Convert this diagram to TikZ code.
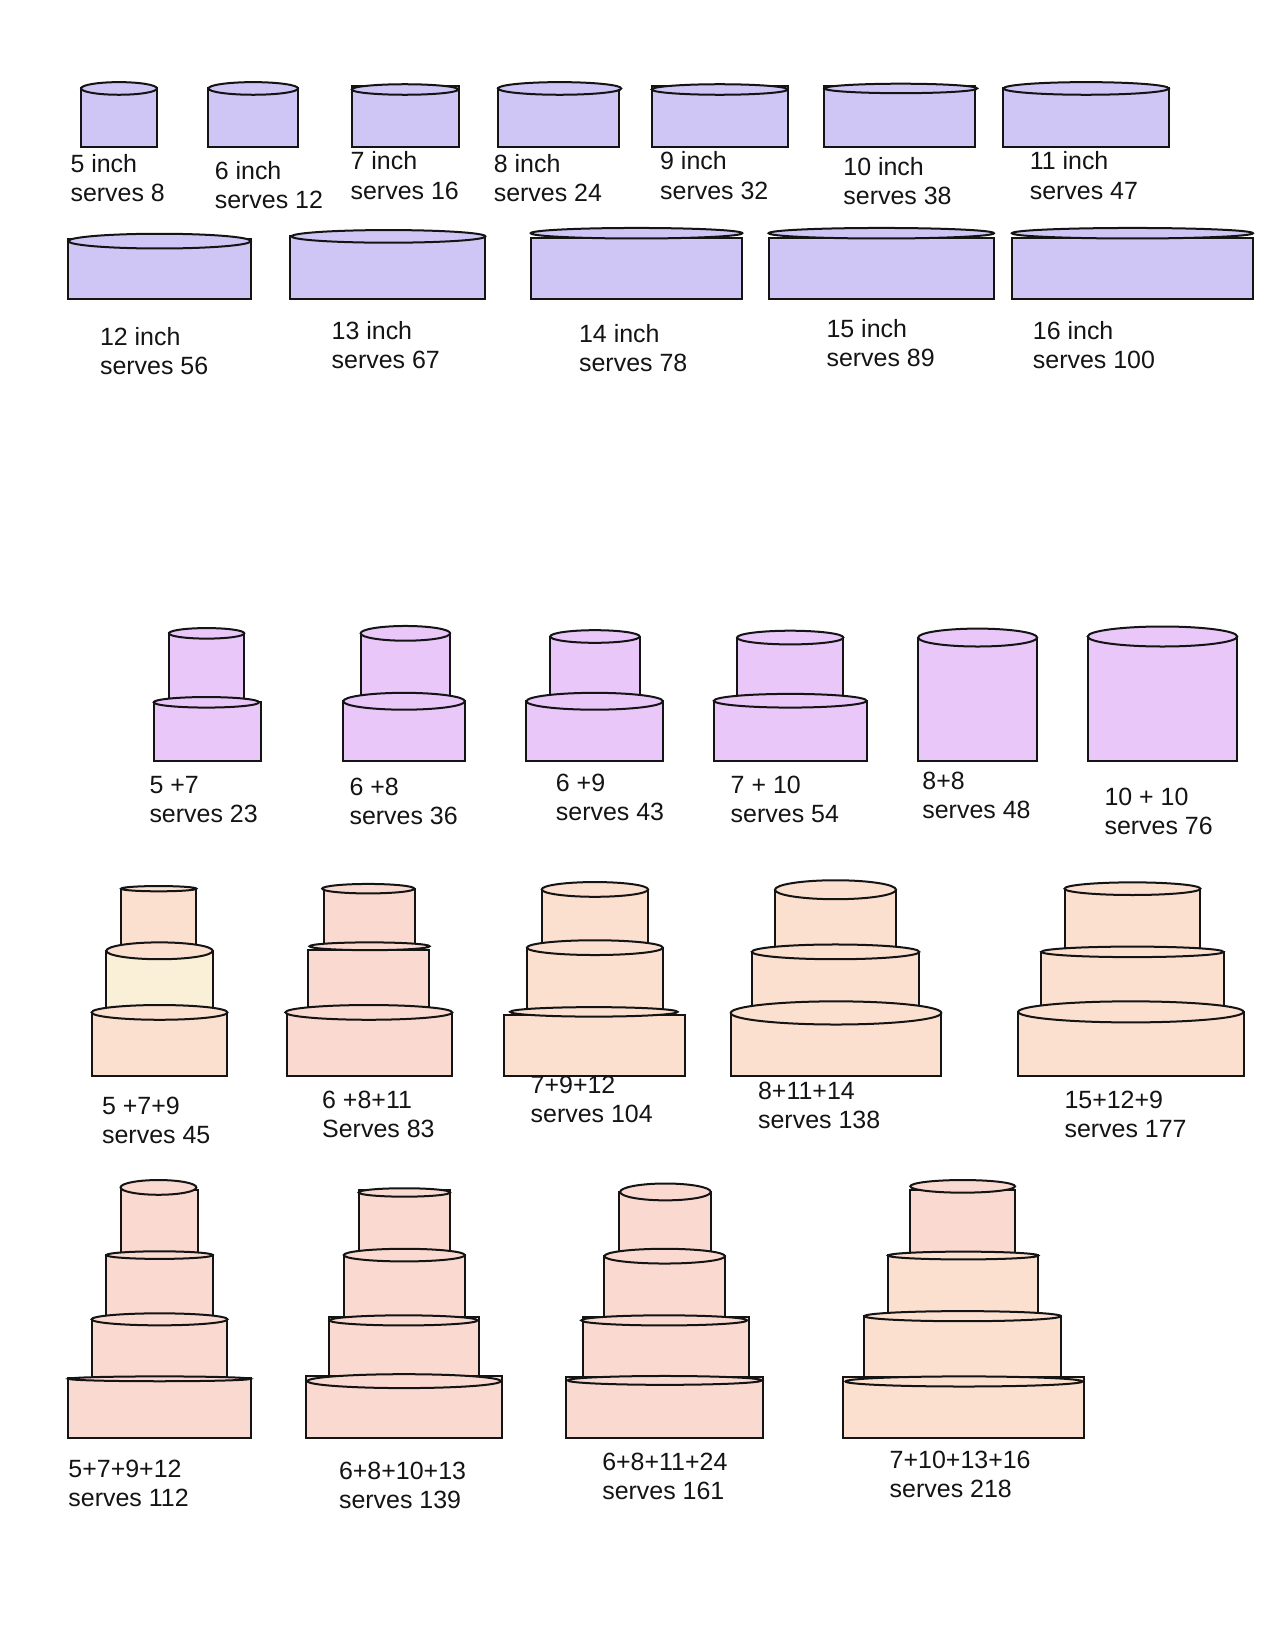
\documentclass[tikz,border=0pt]{standalone}
\usepackage{fontspec}
\setmainfont{Liberation Sans}
\definecolor{lav}{HTML}{D0C6F6}
\definecolor{lil}{HTML}{E9C7F9}
\definecolor{pch}{HTML}{FBDFCF}
\definecolor{pnk}{HTML}{FAD9D1}
\definecolor{crm}{HTML}{FAEFD7}
\definecolor{ink}{HTML}{141414}
\tikzset{
  lbl/.style={anchor=base west,inner sep=0pt,outer sep=0pt,align=left,text=ink,font=\fontsize{23.7}{27.6}\selectfont},
  body/.style={draw=ink,line width=1.9pt,line join=miter},
}
% xl xr top bottom ex1 ex2 cy ry fill
\newcommand\tier[9]{%
  \path[body,fill=#9] (#1,#3) rectangle (#2,#4);
  \pgfmathsetmacro\ecx{(#5+#6)/2}\pgfmathsetmacro\erx{(#6-#5)/2}%
  \path[body,fill=#9] (\ecx,#7) ellipse [x radius=\erx,y radius=#8];
}
\newcommand\tierb[9]{% cream body under a peach top
  \path[body,fill=#9] (#1,#3) rectangle (#2,#4);
  \pgfmathsetmacro\ecx{(#5+#6)/2}\pgfmathsetmacro\erx{(#6-#5)/2}%
  \path[body,fill=pch] (\ecx,#7) ellipse [x radius=\erx,y radius=#8];
}
\begin{document}
\begin{tikzpicture}[x=1pt,y=-1pt]
\useasboundingbox (0,0) rectangle (1211,1568);
\fill[white] (0,0) rectangle (1211,1568);
% labels
\node[lbl] (a5) at (67,191) {5 inch\\serves 8};
\node[lbl] (a6) at (204,198) {6 inch\\serves 12};
\node[lbl] (a7) at (333,189) {7 inch\\serves 16};
\node[lbl] (a8) at (469,191) {8 inch\\serves 24};
\node[lbl] (a9) at (627,189) {9 inch\\serves 32};
\node[lbl] (a10) at (801,194) {10 inch\\serves 38};
\node[lbl] (a11) at (978,189) {11 inch\\serves 47};
\node[lbl] (a12) at (95,356) {12 inch\\serves 56};
\node[lbl] (a13) at (315,350) {13 inch\\serves 67};
\node[lbl] (a14) at (550,352.5) {14 inch\\serves 78};
\node[lbl] (a15) at (785,348.5) {15 inch\\serves 89};
\node[lbl] (a16) at (981,350) {16 inch\\serves 100};
\node[lbl] (b1) at (142,781) {5 +7\\serves 23};
\node[lbl] (b2) at (332,783) {6 +8\\serves 36};
\node[lbl] (b3) at (528,779) {6 +9\\serves 43};
\node[lbl] (b4) at (694,781) {7 + 10\\serves 54};
\node[lbl] (b5) at (876,777) {8+8\\serves 48};
\node[lbl] (b6) at (1049,793) {10 + 10\\serves 76};
\node[lbl] (c1) at (97,1086) {5 +7+9\\serves 45};
\node[lbl] (c2) at (306,1080) {6 +8+11\\Serves 83};
\node[lbl] (c3) at (504,1066) {7+9+12\\serves 104};
\node[lbl] (c4) at (720,1072) {8+11+14\\serves 138};
\node[lbl] (c5) at (1011,1080) {15+12+9\\serves 177};
\node[lbl] (d1) at (65,1430.5) {5+7+9+12\\serves 112};
\node[lbl] (d2) at (322,1432.5) {6+8+10+13\\serves 139};
\node[lbl] (d3) at (572,1424) {6+8+11+24\\serves 161};
\node[lbl] (d4) at (845,1422) {7+10+13+16\\serves 218};
% single tiers, row 1
\tier{77}{149}{84}{139.5}{77}{149}{84}{6}{lav}
\tier{198}{283}{84}{139.5}{198}{283}{84}{6}{lav}
\tier{334}{436}{81.5}{139.5}{334}{435}{85}{5}{lav}
\tier{473}{588}{84}{139.5}{473}{590}{84}{6}{lav}
\tier{619}{748}{81.5}{139.5}{619}{748}{85}{5}{lav}
\tier{783}{926}{81.5}{139.5}{783}{928}{84}{4.5}{lav}
\tier{953}{1110}{84}{139.5}{953}{1110}{84}{6}{lav}
% row 2
\tier{65}{238}{227}{284}{65}{238}{229}{7}{lav}
\tier{275}{461}{224.5}{284}{277}{461}{224.5}{6}{lav}
\tier{504}{705}{226.5}{284}{504}{705}{221.5}{5}{lav}
\tier{730}{944}{226.5}{284}{730}{944}{221.5}{5}{lav}
\tier{961}{1190}{226.5}{284}{961}{1190}{221.5}{5}{lav}
% row 3
\tier{160.5}{232}{601.5}{665}{160.5}{232}{601.5}{5}{lil}
\tier{146}{247.5}{667}{723}{146}{246}{667}{5}{lil}
\tier{342.5}{427.5}{601.5}{666}{342.5}{427.5}{601.5}{7}{lil}
\tier{326}{441.5}{666}{723}{326}{441.5}{666}{8}{lil}
\tier{522.5}{607.5}{604.5}{666}{522.5}{607.5}{604.5}{6}{lil}
\tier{500}{629.5}{666}{723}{500}{629.5}{666}{8}{lil}
\tier{700}{801}{605.5}{665}{700}{801}{605.5}{6.5}{lil}
\tier{678}{823}{665.5}{723}{678}{823}{665.5}{6.5}{lil}
\tier{872}{985}{607}{723}{872}{985}{605.5}{8.5}{lil}
\tier{1033}{1175}{606}{723}{1033}{1175}{604.5}{9.5}{lil}
% row 4
\tier{115}{186.5}{844}{903}{115}{186.5}{844}{2.5}{pch}
\tierb{101}{202}{903}{961}{101}{202}{903}{8}{crm}
\tier{87}{216}{962}{1022}{87}{216}{961.5}{7}{pch}
\tier{308}{394}{844}{899}{306}{393.5}{844}{4.5}{pnk}
\tier{292.5}{407.5}{902}{961}{294}{408}{898.7}{3.7}{pnk}
\tier{273}{429.5}{962}{1022}{271}{429.5}{961.5}{7}{pnk}
\tier{514.5}{615.5}{845}{900}{514.5}{615.5}{844.7}{7}{pch}
\tier{500.5}{629.5}{900}{961}{500.5}{629.5}{900}{7}{pch}
\tier{478.5}{651}{964}{1022}{484.5}{643.5}{961}{4.5}{pch}
\tier{736}{851}{845}{904}{736}{851}{845}{9}{pch}
\tier{714}{873}{904}{962}{714}{873}{904}{7}{pch}
\tier{694}{894}{962}{1022}{694}{894}{962}{11}{pch}
\tier{1011}{1140}{844}{904}{1011}{1140}{844}{6}{pch}
\tier{989}{1162}{904}{961}{989}{1162}{904}{5}{pch}
\tier{967}{1181}{961}{1022}{967}{1181}{961}{10}{pch}
% row 5
\tier{114.5}{188}{1130}{1192}{114.5}{186.5}{1127.7}{7}{pnk}
\tier{101}{202}{1192}{1253}{101}{202}{1192}{3.6}{pnk}
\tier{87}{216}{1253}{1309}{87}{216}{1253}{5.7}{pnk}
\tier{65}{238}{1308.5}{1366}{65.5}{237.5}{1309.5}{2.3}{pnk}
\tier{340.5}{427.5}{1130}{1192}{340.5}{427.5}{1132.5}{4}{pnk}
\tier{326.5}{441.5}{1192}{1254}{326.5}{441.5}{1192}{6}{pnk}
\tier{312.5}{455}{1251}{1310}{313}{453.5}{1254}{4.8}{pnk}
\tier{290.5}{477}{1306.5}{1366}{292}{475.5}{1311.7}{6.6}{pnk}
\tier{588}{675}{1132}{1193}{589}{675}{1132}{8}{pnk}
\tier{574}{688.5}{1193}{1254}{574}{688.5}{1193}{7}{pnk}
\tier{553.5}{711}{1251}{1311}{552}{709.5}{1254}{4.8}{pnk}
\tier{537.5}{724.5}{1308}{1366}{539}{723.5}{1311}{4.2}{pnk}
\tier{864.5}{964}{1130}{1192}{864.5}{964}{1126.7}{6}{pnk}
\tier{843.5}{986}{1191.5}{1250}{843.5}{986}{1192.4}{3.7}{pch}
\tier{821}{1007.5}{1250}{1312}{821}{1007.5}{1250}{4.8}{pch}
\tier{801}{1029.5}{1308}{1366}{803}{1028}{1312}{4.8}{pch}
\end{tikzpicture}
\end{document}
